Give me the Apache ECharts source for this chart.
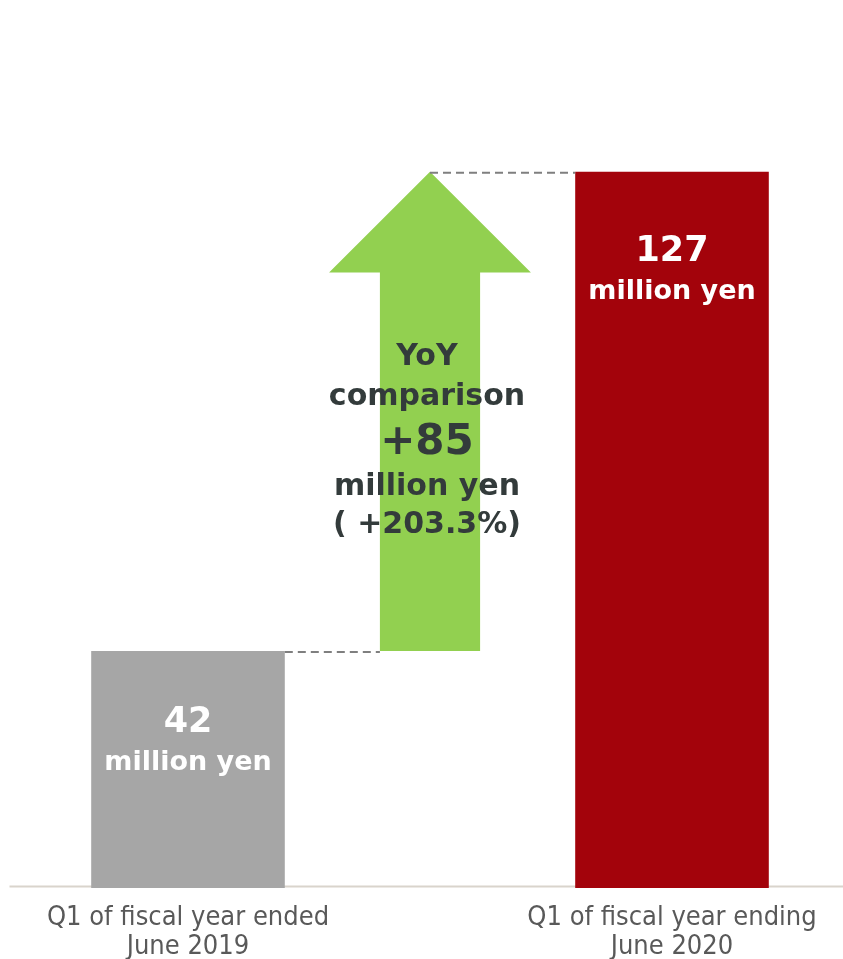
<!DOCTYPE html>
<html>
<head>
<meta charset="utf-8">
<script src="https://cdn.jsdelivr.net/npm/echarts@6/dist/echarts.min.js"></script>
<style>
  html, body { margin: 0; padding: 0; background: #fff; }
  #chart { width: 843px; height: 959px; }
</style>
</head>
<body>
<div id="chart"></div>
<script>
// Quarterly figures (million yen)
const categories = ['Q1 of fiscal year ended\nJune 2019', '', 'Q1 of fiscal year ending\nJune 2020'];
const prevValue = 42;
const currValue = 127;
const barValues = [prevValue, null, currValue];
const changeValue = currValue - prevValue;           // +85
const changePct = '+203.3%';
const unitText = 'million yen';

const FONT = 'DejaVu Sans';
const FONT_NARROW = 'DejaVu Sans Condensed, DejaVu Sans';
const TEXT_DARK = '#333b3b';

const chart = echarts.init(document.getElementById('chart'));

chart.setOption({
  animation: false,
  backgroundColor: '#ffffff',
  grid: { left: 67, right: 50, top: 42, bottom: 71, containLabel: false, outerBoundsMode: 'none' },
  xAxis: {
    type: 'category',
    data: categories,
    axisLine: { show: false },
    axisTick: { show: false },
    axisLabel: {
      interval: 0,
      color: '#595959',
      fontFamily: FONT_NARROW,
      fontSize: 27,
      lineHeight: 29,
      margin: 15
    }
  },
  yAxis: {
    type: 'value',
    min: 0,
    max: 150,
    show: false,
    splitLine: { show: false }
  },
  graphic: [{
    type: 'line',
    left: 7,
    bottom: 70,
    shape: { x1: 0, y1: 0, x2: 836, y2: 0 },
    style: { stroke: '#d9d4cc', lineWidth: 2 }
  }],
  series: [
    {
      type: 'bar',
      barWidth: '80%',
      data: [
        {
          value: barValues[0],
          itemStyle: { color: '#a6a6a6' },
          label: { distance: 52 }
        },
        null,
        {
          value: barValues[2],
          itemStyle: { color: '#a3030b' },
          label: { distance: 60 }
        }
      ],
      label: {
        show: true,
        position: 'insideTop',
        formatter: function (p) { return '{a|' + p.value + '}\n{b|' + unitText + '}'; },
        rich: {
          a: { color: '#fff', fontFamily: FONT, fontWeight: 'bold', fontSize: 35, lineHeight: 40 },
          b: { color: '#fff', fontFamily: FONT, fontWeight: 'bold', fontSize: 27, lineHeight: 40 }
        }
      },
      z: 2
    },
    {
      // Up arrow spanning from the previous value to the current value, plus dashed guides
      type: 'custom',
      data: [[1, prevValue, currValue]],
      renderItem: function (params, api) {
        const x = api.value(0);
        const lo = api.value(1);
        const hi = api.value(2);
        const band = api.size([1, 0])[0];
        const base = api.coord([x, lo]);
        const tip = api.coord([x, hi]);
        const cx = base[0];
        const shaftHalf = band * 0.207;
        const headHalf = band * 0.417;
        const headH = (base[1] - tip[1]) * 0.21;
        const neckY = tip[1] + headH;
        const leftBarRight = api.coord([0, lo])[0] + band * 0.4;
        const rightBarLeft = api.coord([2, hi])[0] - band * 0.4;
        const textTop = tip[1] + 165;
        const children = [
          {
            type: 'polygon',
            shape: {
              points: [
                [cx - shaftHalf, base[1]],
                [cx - shaftHalf, neckY],
                [cx - headHalf, neckY],
                [cx, tip[1]],
                [cx + headHalf, neckY],
                [cx + shaftHalf, neckY],
                [cx + shaftHalf, base[1]]
              ]
            },
            style: { fill: '#92d050' }
          },
          {
            type: 'line',
            shape: { x1: leftBarRight, y1: api.coord([0, lo])[1] + 1, x2: cx - shaftHalf, y2: base[1] + 1 },
            style: { stroke: '#7f7f7f', lineWidth: 2, lineDash: [8, 5] }
          },
          {
            type: 'line',
            shape: { x1: cx, y1: tip[1] + 1, x2: rightBarLeft, y2: tip[1] + 1 },
            style: { stroke: '#7f7f7f', lineWidth: 2, lineDash: [8, 5] }
          },
          {
            type: 'text',
            x: cx - 3,
            y: textTop,
            style: {
              text: '{s|YoY}\n{s|comparison}\n{n|+' + changeValue + '}\n{m|' + unitText + '}\n{p|( ' + changePct + ')}',
              align: 'center',
              verticalAlign: 'top',
              rich: {
                s: { fill: TEXT_DARK, fontFamily: FONT, fontWeight: 'bold', fontSize: 30, lineHeight: 40 },
                n: { fill: TEXT_DARK, fontFamily: FONT, fontWeight: 'bold', fontSize: 42, lineHeight: 52 },
                m: { fill: TEXT_DARK, fontFamily: FONT, fontWeight: 'bold', fontSize: 30, lineHeight: 36 },
                p: { fill: TEXT_DARK, fontFamily: FONT, fontWeight: 'bold', fontSize: 30, lineHeight: 40 }
              }
            }
          }
        ];
        return { type: 'group', children: children };
      },
      z: 3
    }
  ]
});
</script>
</body>
</html>
